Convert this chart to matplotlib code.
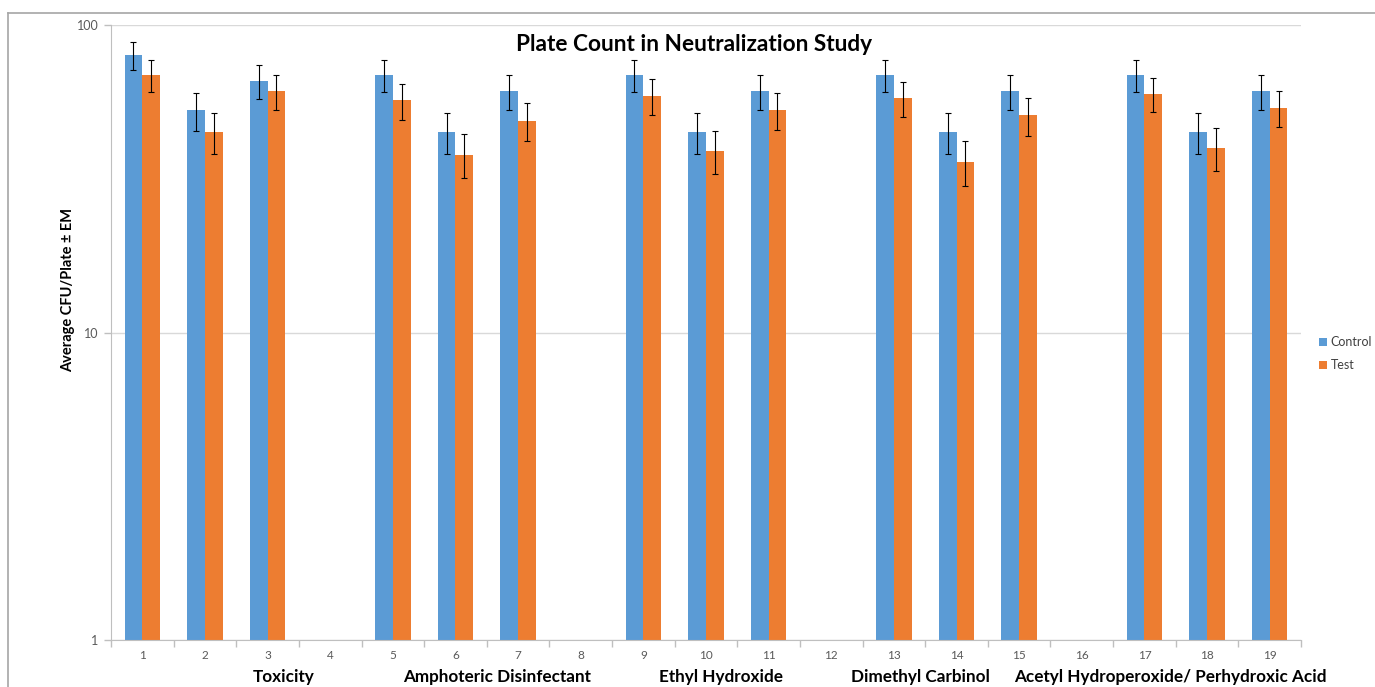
import matplotlib.pyplot as plt
import numpy as np
from matplotlib.lines import Line2D
from matplotlib.ticker import FixedLocator, NullFormatter, NullLocator

plt.rcParams['font.family'] = ['Lato', 'DejaVu Sans']

# plate counts per sample (blank samples are separators between groups)
samples = [str(i) for i in range(1, 20)]
control = [80, 53, 66, np.nan, 69, 45, 61, np.nan, 69, 45, 61, np.nan,
           69, 45, 61, np.nan, 69, 45, 61]
control_err = [8.6, 7.5, 8.2, 0, 8.3, 6.8, 7.8, 0, 8.3, 6.8, 7.8, 0,
               8.3, 6.8, 7.8, 0, 8.3, 6.8, 7.8]
test = [69, 45, 61, np.nan, 57, 38, 49, np.nan, 59, 39, 53, np.nan,
        58, 36, 51, np.nan, 60, 40, 54]
test_err = [8.3, 6.8, 7.8, 0, 7.6, 6.2, 7.0, 0, 7.7, 6.2, 7.4, 0,
            7.7, 6.0, 7.2, 0, 7.7, 6.4, 7.4]
groups = ['Toxicity', 'Amphoteric Disinfectant', 'Ethyl Hydroxide',
          'Dimethyl Carbinol', 'Acetyl Hydroperoxide/ Perhydroxic Acid']
group_pos = [3.26, 6.66, 10.24, 13.42, 17.42]

blue = '#5b9bd5'
orange = '#ed7d31'
grey = '#bfbfbf'

fig = plt.figure(figsize=(13.75, 6.87), dpi=100)
ax = fig.add_axes([0.0807, 0.068, 0.8655, 0.895])

x = np.arange(1, len(samples) + 1)
w = 0.283
ekw = dict(ecolor='black', elinewidth=0.8, capsize=2.5, capthick=0.8)
ax.bar(x - w / 2, control, w, color=blue, label='Control', zorder=2)
ax.bar(x + w / 2, test, w, color=orange, label='Test', zorder=2)
ax.errorbar(x - w / 2, control, yerr=control_err, fmt='none', zorder=3, **ekw)
ax.errorbar(x + w / 2, test, yerr=test_err, fmt='none', zorder=3, **ekw)

ax.set_yscale('log')
ax.set_ylim(1, 100)
ax.set_xlim(0.5, len(samples) + 0.5)
ax.yaxis.set_major_locator(FixedLocator([1, 10, 100]))
ax.yaxis.set_minor_locator(NullLocator())
ax.set_yticklabels(['1', '10', '100'])
ax.grid(axis='y', color='#d9d9d9', linewidth=1, zorder=0)
ax.set_axisbelow(True)

# category boundaries as ticks, sample numbers as centred labels
ax.xaxis.set_major_locator(FixedLocator(np.arange(0.5, len(samples) + 1)))
ax.xaxis.set_major_formatter(NullFormatter())
ax.xaxis.set_minor_locator(FixedLocator(x))
ax.set_xticklabels(samples, minor=True)
ax.tick_params(axis='x', which='major', length=5, color=grey, width=1)
ax.tick_params(axis='x', which='minor', length=0, pad=7,
               labelsize=8.5, labelcolor='#595959')
ax.tick_params(axis='y', length=5, color=grey, width=1, pad=4,
               labelsize=9, labelcolor='#595959')

for s in ['top', 'right']:
    ax.spines[s].set_visible(False)
for s in ['left', 'bottom']:
    ax.spines[s].set_color(grey)

ax.text(0.49, 0.969, 'Plate Count in Neutralization Study', transform=ax.transAxes,
        ha='center', va='center', fontsize=16.3, fontweight='bold')
fig.text(0.0495, 0.578, 'Average CFU/Plate \u00b1 EM', rotation=90,
         ha='center', va='center', fontsize=10.5, fontweight='bold')

trans = ax.get_xaxis_transform()
for label, pos in zip(groups, group_pos):
    ax.text(pos, -0.06, label, transform=trans, ha='center', va='center',
            fontsize=12.3, fontweight='bold')

ax.legend(loc='center left', bbox_to_anchor=(1.006, 0.466),
          frameon=False, fontsize=9, handlelength=0.6, handleheight=0.6,
          handletextpad=0.3, labelspacing=0.9, labelcolor='#404040')

# outer chart frame
fig.add_artist(Line2D([0.0058, 1], [0.9806, 0.9806], color='#a6a6a6', lw=1.2))
fig.add_artist(Line2D([0.0058, 0.0058], [0, 0.9806], color='#a6a6a6', lw=1.2))

fig.savefig('out.png', dpi=100)
